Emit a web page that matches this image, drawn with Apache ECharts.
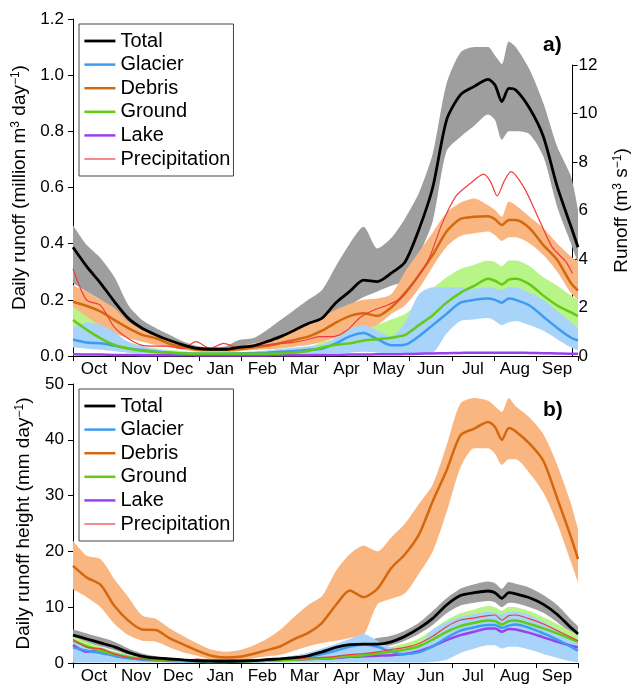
<!DOCTYPE html>
<html>
<head>
<meta charset="utf-8">
<script src="https://cdn.jsdelivr.net/npm/echarts@6/dist/echarts.min.js"></script>
<style>
  html, body { margin: 0; padding: 0; background: #fff; }
  #chart { width: 639px; height: 685px; }
</style>
</head>
<body>
<div id="chart"></div>
<script>
// hydrological year, Oct to Sep
const months = ['Oct', 'Nov', 'Dec', 'Jan', 'Feb', 'Mar', 'Apr', 'May', 'Jun', 'Jul', 'Aug', 'Sep'];
const legendNames = ['Total', 'Glacier', 'Debris', 'Ground', 'Lake', 'Precipitation'];

// day of the hydrological year for every sampled value
const days = [0, 10, 20, 30, 40, 50, 60, 70, 80, 90, 100, 110, 120, 130, 140, 150, 160, 170, 180, 190,
  200, 210, 220, 230, 240, 250, 260, 270, 280, 290, 300, 305, 310, 315, 320, 330, 340, 350, 360, 365];

// a) daily runoff, million m3 per day (line, upper and lower band)
const totalA = [0.387, 0.318, 0.259, 0.193, 0.134, 0.099, 0.075, 0.055, 0.039, 0.027,
  0.024, 0.024, 0.031, 0.036, 0.051, 0.069, 0.092, 0.116, 0.135, 0.19,
  0.23, 0.27, 0.265, 0.295, 0.335, 0.45, 0.60, 0.84, 0.93, 0.96,
  0.985, 0.965, 0.906, 0.953, 0.947, 0.882, 0.781, 0.603, 0.46, 0.387];
const totalAHi = [0.466, 0.395, 0.348, 0.28, 0.181, 0.128, 0.099, 0.075, 0.051, 0.036,
  0.031, 0.034, 0.057, 0.063, 0.092, 0.128, 0.164, 0.2, 0.235, 0.32,
  0.40, 0.46, 0.383, 0.42, 0.49, 0.58, 0.72, 0.97, 1.08, 1.10,
  1.10, 1.07, 1.04, 1.12, 1.10, 1.02, 0.90, 0.745, 0.638, 0.52];
const totalALo = [0.26, 0.229, 0.2, 0.157, 0.116, 0.08, 0.063, 0.046, 0.031, 0.022,
  0.018, 0.02, 0.025, 0.03, 0.04, 0.055, 0.07, 0.085, 0.11, 0.15,
  0.18, 0.21, 0.23, 0.25, 0.27, 0.36, 0.48, 0.73, 0.78, 0.82,
  0.86, 0.84, 0.77, 0.80, 0.80, 0.79, 0.71, 0.53, 0.40, 0.33];
const debrisA = [0.193, 0.178, 0.158, 0.128, 0.099, 0.075, 0.063, 0.043, 0.031, 0.022,
  0.022, 0.022, 0.024, 0.03, 0.036, 0.046, 0.057, 0.069, 0.09, 0.119,
  0.142, 0.152, 0.143, 0.173, 0.225, 0.288, 0.36, 0.443, 0.488, 0.496,
  0.498, 0.487, 0.466, 0.484, 0.484, 0.455, 0.395, 0.342, 0.259, 0.233];
const debrisAHi = [0.253, 0.229, 0.2, 0.17, 0.122, 0.093, 0.075, 0.06, 0.039, 0.027,
  0.027, 0.027, 0.033, 0.045, 0.055, 0.075, 0.099, 0.116, 0.14, 0.165,
  0.185, 0.2, 0.205, 0.22, 0.30, 0.37, 0.44, 0.51, 0.546, 0.561,
  0.537, 0.52, 0.496, 0.55, 0.537, 0.496, 0.455, 0.401, 0.354, 0.336];
const debrisALo = [0.14, 0.128, 0.105, 0.08, 0.063, 0.051, 0.039, 0.03, 0.022, 0.015,
  0.014, 0.014, 0.017, 0.021, 0.024, 0.027, 0.033, 0.039, 0.05, 0.065,
  0.08, 0.09, 0.11, 0.15, 0.18, 0.24, 0.318, 0.389, 0.427, 0.437,
  0.443, 0.43, 0.41, 0.423, 0.423, 0.401, 0.36, 0.3, 0.223, 0.199];
const groundA = [0.128, 0.093, 0.063, 0.039, 0.027, 0.019, 0.014, 0.012, 0.009, 0.008,
  0.008, 0.008, 0.008, 0.008, 0.008, 0.009, 0.012, 0.018, 0.03, 0.04,
  0.045, 0.055, 0.06, 0.065, 0.075, 0.11, 0.145, 0.19, 0.225, 0.25,
  0.275, 0.268, 0.255, 0.272, 0.275, 0.255, 0.215, 0.18, 0.155, 0.142];
const groundAHi = [0.175, 0.14, 0.105, 0.069, 0.051, 0.036, 0.027, 0.021, 0.017, 0.014,
  0.014, 0.014, 0.014, 0.015, 0.016, 0.018, 0.021, 0.03, 0.05, 0.06,
  0.075, 0.09, 0.11, 0.13, 0.15, 0.19, 0.24, 0.28, 0.31, 0.325,
  0.34, 0.335, 0.32, 0.34, 0.34, 0.32, 0.28, 0.25, 0.215, 0.2];
const groundALo = [0.08, 0.057, 0.033, 0.019, 0.012, 0.008, 0.005, 0.005, 0.005, 0.005,
  0.005, 0.005, 0.005, 0.005, 0.005, 0.005, 0.005, 0.008, 0.015, 0.02,
  0.025, 0.03, 0.035, 0.04, 0.045, 0.06, 0.09, 0.12, 0.15, 0.18,
  0.2, 0.195, 0.19, 0.2, 0.2, 0.185, 0.15, 0.12, 0.1, 0.09];
const glacierA = [0.059, 0.048, 0.045, 0.036, 0.027, 0.021, 0.015, 0.012, 0.009, 0.008,
  0.008, 0.008, 0.009, 0.01, 0.012, 0.015, 0.018, 0.022, 0.026, 0.045,
  0.07, 0.082, 0.06, 0.038, 0.04, 0.07, 0.11, 0.15, 0.19, 0.2,
  0.205, 0.2, 0.19, 0.205, 0.2, 0.18, 0.14, 0.1, 0.065, 0.055];
const glacierAHi = [0.1, 0.12, 0.11, 0.085, 0.05, 0.035, 0.025, 0.018, 0.014, 0.012,
  0.012, 0.012, 0.013, 0.016, 0.02, 0.025, 0.03, 0.035, 0.04, 0.065,
  0.095, 0.11, 0.09, 0.07, 0.12, 0.22, 0.245, 0.245, 0.245, 0.24,
  0.245, 0.24, 0.235, 0.245, 0.245, 0.225, 0.2, 0.16, 0.12, 0.1];
const glacierALo = [0.03, 0.026, 0.022, 0.017, 0.012, 0.009, 0.007, 0.005, 0.005, 0.004,
  0.004, 0.004, 0.004, 0.005, 0.005, 0.006, 0.006, 0.007, 0.008, 0.01,
  0.012, 0.015, 0.012, 0.008, 0.008, 0.008, 0.012, 0.08, 0.125, 0.13,
  0.135, 0.125, 0.11, 0.12, 0.125, 0.11, 0.09, 0.06, 0.03, 0.02];
const lakeA = [0.006, 0.005, 0.005, 0.004, 0.004, 0.003, 0.003, 0.003, 0.003, 0.002,
  0.002, 0.002, 0.002, 0.002, 0.002, 0.003, 0.003, 0.003, 0.004, 0.004,
  0.005, 0.005, 0.006, 0.006, 0.007, 0.008, 0.009, 0.010, 0.011, 0.012,
  0.012, 0.012, 0.012, 0.012, 0.012, 0.011, 0.010, 0.009, 0.008, 0.008];
// precipitation on the right axis, m3 per s
const precipA = [3.6, 2.3, 2.1, 1.2, 0.73, 0.45, 0.41, 0.41, 0.31, 0.59,
  0.31, 0.52, 0.36, 0.38, 0.45, 0.52, 0.55, 0.66, 0.8, 0.8,
  1.05, 1.6, 1.9, 2.1, 2.4, 3.1, 4.0, 5.5, 6.6, 7.1,
  7.5, 7.2, 6.6, 7.2, 7.6, 6.9, 5.7, 4.5, 3.9, 3.4];

// b) daily runoff height, mm per day
const totalB = [5.0, 4.3, 3.6, 2.9, 1.9, 1.2, 0.9, 0.72, 0.55, 0.4,
  0.33, 0.3, 0.33, 0.42, 0.6, 0.75, 0.95, 1.3, 2.0, 2.8,
  3.3, 3.4, 3.4, 3.8, 4.8, 6.2, 8.0, 10.4, 12.1, 12.6,
  12.9, 12.6, 11.6, 12.6, 12.4, 11.7, 10.5, 8.7, 6.3, 5.2];
const totalBHi = [6.0, 5.3, 4.6, 3.8, 2.6, 1.7, 1.2, 0.9, 0.7, 0.55,
  0.45, 0.42, 0.45, 0.6, 0.8, 1.0, 1.3, 1.8, 2.5, 3.3,
  3.8, 4.0, 4.5, 4.9, 5.8, 7.2, 9.3, 11.6, 13.3, 14.1,
  14.6, 14.3, 13.3, 14.5, 14.2, 13.5, 12.2, 10.4, 7.8, 6.6];
const totalBLo = [4.2, 3.6, 3.0, 2.3, 1.5, 0.9, 0.65, 0.5, 0.4, 0.3,
  0.25, 0.22, 0.25, 0.3, 0.45, 0.55, 0.7, 1.0, 1.5, 2.3,
  2.8, 2.9, 2.9, 3.2, 4.0, 5.2, 6.8, 8.9, 10.3, 10.8,
  11.1, 10.9, 10.0, 10.8, 10.7, 10.0, 9.0, 7.3, 5.3, 4.4];
const debrisB = [17.4, 15.3, 14.0, 10.2, 7.6, 6.0, 5.9, 4.4, 3.3, 2.2,
  1.3, 1.0, 1.1, 1.6, 2.3, 3.0, 4.3, 5.4, 7.2, 10.4,
  13.0, 11.8, 13.3, 17.0, 19.5, 23.0, 29.0, 34.5, 40.8, 42.0,
  43.2, 42.3, 40.0, 42.1, 41.5, 39.3, 36.2, 29.5, 22.5, 18.6];
const debrisBHi = [21.9, 19.2, 18.6, 15.0, 11.8, 8.5, 7.9, 6.2, 4.8, 3.5,
  2.4, 2.0, 2.3, 3.1, 4.3, 6.0, 8.3, 10.4, 12.0, 16.5,
  19.5, 21.0, 20.0, 22.5, 25.0, 28.5, 32.0, 39.0, 46.5, 47.5,
  47.0, 46.0, 45.0, 47.5, 46.0, 44.0, 41.0, 35.5, 28.5, 24.0];
const debrisBLo = [13.2, 11.8, 10.0, 7.0, 5.0, 4.0, 3.8, 2.8, 1.9, 1.3,
  0.6, 0.5, 0.5, 0.8, 1.2, 1.5, 2.2, 3.0, 3.6, 4.0,
  4.5, 5.0, 10.5, 11.5, 12.5, 16.0, 20.0, 27.0, 35.0, 38.5,
  38.5, 37.5, 35.5, 36.5, 36.5, 34.0, 30.5, 25.0, 18.0, 14.5];
const groundB = [4.0, 3.0, 2.2, 1.6, 1.1, 0.8, 0.6, 0.5, 0.4, 0.35,
  0.3, 0.3, 0.3, 0.35, 0.4, 0.5, 0.6, 0.7, 0.8, 1.0,
  1.2, 1.4, 1.7, 2.0, 2.4, 3.0, 4.2, 5.6, 6.6, 7.2,
  7.6, 7.5, 6.9, 7.5, 7.6, 7.0, 6.2, 5.3, 4.3, 3.8];
const groundBHi = [4.8, 3.8, 2.9, 2.1, 1.5, 1.1, 0.8, 0.65, 0.55, 0.45,
  0.4, 0.4, 0.4, 0.45, 0.55, 0.65, 0.8, 0.95, 1.1, 1.4,
  1.7, 2.0, 2.4, 2.9, 3.5, 4.4, 6.0, 7.7, 8.9, 9.6,
  10.2, 10.0, 9.4, 10.1, 10.0, 9.3, 8.2, 7.0, 5.7, 5.1];
const groundBLo = [3.2, 2.3, 1.6, 1.1, 0.8, 0.55, 0.45, 0.35, 0.3, 0.25,
  0.2, 0.2, 0.2, 0.25, 0.3, 0.35, 0.45, 0.5, 0.6, 0.7,
  0.8, 1.0, 1.2, 1.4, 1.7, 2.1, 2.9, 4.0, 4.9, 5.4,
  5.8, 5.7, 5.2, 5.6, 5.7, 5.2, 4.5, 3.8, 3.0, 2.6];
const glacierB = [2.8, 2.2, 1.8, 1.3, 0.9, 0.6, 0.45, 0.35, 0.3, 0.25,
  0.2, 0.2, 0.22, 0.3, 0.4, 0.6, 0.8, 1.1, 1.6, 2.2,
  2.9, 3.3, 2.9, 2.0, 1.6, 1.9, 3.0, 4.5, 5.8, 6.4,
  6.8, 6.8, 6.3, 6.7, 6.9, 6.3, 5.3, 4.2, 2.9, 2.2];
const glacierBHi = [3.8, 3.2, 2.6, 2.0, 1.4, 1.0, 0.7, 0.55, 0.45, 0.38,
  0.32, 0.3, 0.35, 0.45, 0.6, 0.9, 1.3, 1.8, 2.6, 3.4,
  4.3, 5.2, 4.0, 2.8, 2.6, 3.3, 6.0, 7.3, 8.3, 8.8,
  9.2, 9.0, 8.7, 9.1, 9.2, 8.6, 7.4, 6.0, 4.4, 3.6];
const glacierBLo = [0.1, 0.1, 0.1, 0.1, 0.1, 0.1, 0.1, 0.1, 0.1, 0.1,
  0.1, 0.1, 0.1, 0.1, 0.1, 0.1, 0.1, 0.1, 0.1, 0.1,
  0.1, 0.1, 0.1, 0.1, 0.1, 0.1, 0.2, 0.6, 1.8, 2.6,
  3.2, 3.2, 2.6, 2.9, 2.9, 2.4, 1.6, 0.9, 0.3, 0.1];
const lakeB = [3.2, 2.0, 2.4, 1.3, 0.9, 0.7, 0.6, 0.5, 0.5, 0.45,
  0.4, 0.4, 0.4, 0.45, 0.5, 0.55, 0.6, 0.7, 0.8, 0.9,
  1.1, 1.2, 1.3, 1.4, 1.6, 2.1, 3.0, 4.1, 5.0, 5.6,
  6.2, 6.2, 5.6, 6.1, 6.0, 5.4, 4.6, 3.8, 3.1, 2.8];
const precipB = [4.2, 2.8, 2.6, 1.6, 1.0, 0.7, 0.6, 0.6, 0.5, 0.7,
  0.5, 0.6, 0.5, 0.55, 0.6, 0.7, 0.75, 0.9, 1.0, 1.2,
  1.5, 1.7, 2.0, 2.4, 2.8, 3.5, 4.8, 6.5, 7.7, 8.1,
  8.5, 8.6, 7.7, 8.5, 8.6, 7.9, 7.0, 5.8, 4.6, 4.0];

const FONT = '"Liberation Sans", Arial, sans-serif';
const C = {
  total: '#000000', glacier: '#3d9cf0', debris: '#d4680e', ground: '#62cc12', lake: '#9b3ff0', precip: '#f03c3c',
  totalBand: '#9e9e9e', glacierBand: '#a8d4fa', debrisBand: '#f9b680', groundBand: '#b8f488'
};

// hidden day axis: one category per day so the bands can be stacked
const dayCats = [];
for (let d = 0; d <= 365; d++) dayCats.push(String(d));

function pts(vals) {
  return days.map((d, i) => [d, vals[i]]);
}

function band(stack, xi, yi, lo, hi, color) {
  return [{
    type: 'line', xAxisIndex: xi, yAxisIndex: yi, stack, data: pts(lo),
    symbol: 'none', smooth: 0.25, lineStyle: {opacity: 0}, silent: true, z: 1
  }, {
    type: 'line', xAxisIndex: xi, yAxisIndex: yi, stack,
    data: days.map((d, i) => [d, +(hi[i] - lo[i]).toFixed(4)]),
    symbol: 'none', smooth: 0.25, lineStyle: {opacity: 0},
    areaStyle: {color, opacity: 1}, silent: true, z: 1
  }];
}

function line(name, xi, yi, vals, color, width) {
  return {
    name, type: 'line', xAxisIndex: xi, yAxisIndex: yi, data: pts(vals),
    symbol: 'none', smooth: 0.25, lineStyle: {color, width}, itemStyle: {color}, z: 2
  };
}

const axisLine = {show: true, onZero: false, lineStyle: {color: '#000', width: 1}};
const axisTick = {show: true, inside: false, length: 5, lineStyle: {color: '#000', width: 1}};
const labelStyle = {color: '#000', fontSize: 17, fontFamily: FONT};
const nameStyle = {
  color: '#000', fontSize: 19, fontFamily: FONT,
  rich: {sup: {fontSize: 12, fontFamily: FONT, verticalAlign: 'top', padding: [0, 0, 8, 0]}}
};

function monthAxis(gridIndex) {
  return {
    type: 'category', gridIndex, data: months, boundaryGap: true,
    axisLine, axisTick: {...axisTick, interval: 0, alignWithLabel: false},
    axisLabel: {...labelStyle, interval: 0, margin: 5}, splitLine: {show: false}
  };
}

function dayAxis(gridIndex) {
  return {type: 'category', gridIndex, data: dayCats, boundaryGap: false, show: false};
}

function legendAt(top) {
  return {
    left: 79, top, orient: 'vertical', itemWidth: 31, itemHeight: 14, itemGap: 3.6,
    padding: [7, 3, 7, 4], borderColor: '#444', borderWidth: 1, backgroundColor: '#fff',
    textStyle: {color: '#000', fontSize: 20, fontFamily: FONT, lineHeight: 20},
    itemStyle: {opacity: 0}, lineStyle: {width: 'inherit'},
    selectedMode: false, data: legendNames
  };
}

const chart = echarts.init(document.getElementById('chart'), null, {renderer: 'canvas'});

chart.setOption({
  animation: false,
  backgroundColor: '#fff',
  grid: [
    {left: 73, right: 61, top: 19, height: 337},
    {left: 73, right: 61, top: 65, height: 291},
    {left: 73, right: 61, top: 384, height: 280}
  ],
  xAxis: [monthAxis(0), dayAxis(0), dayAxis(1), monthAxis(2), dayAxis(2)],
  yAxis: [{
    type: 'value', gridIndex: 0, min: 0, max: 1.2, interval: 0.2,
    axisLine, axisTick, splitLine: {show: false},
    axisLabel: {...labelStyle, margin: 9, formatter: v => v.toFixed(1)},
    name: 'Daily runoff (million m{sup|3} day{sup|\u22121})', nameLocation: 'middle', nameGap: 39, nameRotate: 90,
    nameTextStyle: nameStyle
  }, {
    type: 'value', gridIndex: 1, position: 'right', min: 0, max: 12, interval: 2,
    axisLine, axisTick, splitLine: {show: false},
    axisLabel: {...labelStyle, margin: 6},
    name: 'Runoff (m{sup|3} s{sup|\u22121})', nameLocation: 'middle', nameGap: 39, nameRotate: 90,
    nameTextStyle: nameStyle
  }, {
    type: 'value', gridIndex: 2, min: 0, max: 50, interval: 10,
    axisLine, axisTick, splitLine: {show: false},
    axisLabel: {...labelStyle, margin: 9},
    name: 'Daily runoff height (mm day{sup|\u22121})', nameLocation: 'middle', nameGap: 39, nameRotate: 90,
    nameTextStyle: nameStyle
  }],
  legend: [legendAt(24), legendAt(389)],
  graphic: [
    {type: 'text', left: 543, top: 35, style: {text: 'a)', font: 'bold 21px ' + FONT, fill: '#000'}},
    {type: 'text', left: 543, top: 400, style: {text: 'b)', font: 'bold 21px ' + FONT, fill: '#000'}}
  ],
  series: [
    ...band('tA', 1, 0, totalALo, totalAHi, C.totalBand),
    ...band('dA', 1, 0, debrisALo, debrisAHi, C.debrisBand),
    ...band('gA', 1, 0, groundALo, groundAHi, C.groundBand),
    ...band('glA', 1, 0, glacierALo, glacierAHi, C.glacierBand),
    line('Lake', 1, 0, lakeA, C.lake, 2.5),
    line('Glacier', 1, 0, glacierA, C.glacier, 2.5),
    line('Ground', 1, 0, groundA, C.ground, 2.5),
    line('Debris', 1, 0, debrisA, C.debris, 2.5),
    line('Precipitation', 2, 1, precipA, C.precip, 1.2),
    line('Total', 1, 0, totalA, C.total, 2.8),

    ...band('tB', 4, 2, totalBLo, totalBHi, C.totalBand),
    ...band('dB', 4, 2, debrisBLo, debrisBHi, C.debrisBand),
    ...band('gB', 4, 2, groundBLo, groundBHi, C.groundBand),
    ...band('glB', 4, 2, glacierBLo, glacierBHi, C.glacierBand),
    line('Lake', 4, 2, lakeB, C.lake, 2.5),
    line('Glacier', 4, 2, glacierB, C.glacier, 2.5),
    line('Ground', 4, 2, groundB, C.ground, 2.5),
    line('Debris', 4, 2, debrisB, C.debris, 2.5),
    line('Precipitation', 4, 2, precipB, C.precip, 1.2),
    line('Total', 4, 2, totalB, C.total, 2.8)
  ]
});
</script>
</body>
</html>
